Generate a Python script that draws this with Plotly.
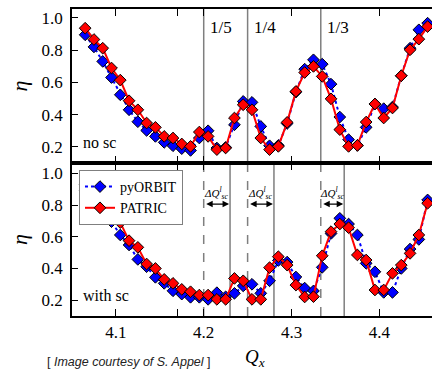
import plotly.graph_objects as go

# ---- data ----
qx = [4.065, 4.075, 4.085, 4.095, 4.105, 4.115, 4.125, 4.135, 4.145, 4.155,
      4.165, 4.175, 4.185, 4.195, 4.205, 4.215, 4.225, 4.235, 4.245, 4.255,
      4.265, 4.275, 4.285, 4.295, 4.305, 4.315, 4.325, 4.335, 4.345, 4.355,
      4.365, 4.375, 4.385, 4.395, 4.405, 4.415, 4.425, 4.435, 4.445, 4.455]

nosc_patric = [0.936, 0.866, 0.812, 0.689, 0.614, 0.486, 0.430, 0.348, 0.321, 0.265,
               0.255, 0.218, 0.203, 0.292, 0.265, 0.183, 0.193, 0.379, 0.461, 0.430,
               0.255, 0.183, 0.203, 0.352, 0.544, 0.661, 0.699, 0.637, 0.498, 0.307,
               0.203, 0.209, 0.354, 0.466, 0.379, 0.441, 0.641, 0.802, 0.868, 0.946]
nosc_pyorbit = [0.895, 0.820, 0.730, 0.630, 0.523, 0.430, 0.356, 0.302, 0.265, 0.228,
                0.207, 0.189, 0.178, 0.255, 0.300, 0.193, 0.197, 0.337, 0.482, 0.476,
                0.327, 0.207, 0.209, 0.345, 0.540, 0.682, 0.740, 0.713, 0.589, 0.385,
                0.245, 0.209, 0.321, 0.466, 0.437, 0.447, 0.641, 0.812, 0.926, 0.967]

sc_patric = [0.930, 0.860, 0.800, 0.731, 0.689, 0.575, 0.533, 0.428, 0.400, 0.331,
             0.306, 0.268, 0.253, 0.232, 0.232, 0.205, 0.205, 0.337, 0.322, 0.205,
             0.205, 0.405, 0.474, 0.421, 0.295, 0.220, 0.222, 0.480, 0.632, 0.680,
             0.657, 0.485, 0.453, 0.264, 0.264, 0.369, 0.421, 0.495, 0.611, 0.811]
sc_pyorbit = [0.890, 0.810, 0.751, 0.695, 0.611, 0.548, 0.457, 0.411, 0.344, 0.306,
              0.259, 0.238, 0.218, 0.218, 0.205, 0.247, 0.221, 0.243, 0.290, 0.300,
              0.243, 0.322, 0.450, 0.440, 0.346, 0.276, 0.258, 0.407, 0.620, 0.716,
              0.680, 0.611, 0.432, 0.379, 0.249, 0.249, 0.400, 0.522, 0.583, 0.832]

resonances = [4.2, 4.25, 4 + 1 / 3]
resonance_labels = ["1/5", "1/4", "1/3"]
shifted = [4.23, 4.28, 4.36]

x_ticks = [4.1, 4.17, 4.2, 4.3, 4.4]
x_ticktext = ["4.1", "", "4.2", "4.3", "4.4"]
y_ticks = [0.2, 0.4, 0.6, 0.8, 1.0]
y_ticktext = ["0.2", "0.4", "0.6", "0.8", "1.0"]

SERIF = "Liberation Serif"
BLUE = "#0000ff"
RED = "#ff0000"
GRAY = "#7f7f7f"

fig = go.Figure()

def add_series(y, color, dash, name, xa, ya, show):
    fig.add_trace(go.Scatter(
        x=qx, y=y, mode="lines+markers", name=name, showlegend=show,
        line=dict(color=color, width=2, dash=dash),
        marker=dict(symbol="diamond", size=9, color=color,
                    line=dict(color="black", width=1)),
        xaxis=xa, yaxis=ya))

add_series(nosc_pyorbit, BLUE, "dot", "pyORBIT", "x", "y", False)
add_series(nosc_patric, RED, "solid", "PATRIC", "x", "y", False)
add_series(sc_pyorbit, BLUE, "dot", "pyORBIT", "x2", "y2", True)
add_series(sc_patric, RED, "solid", "PATRIC", "x2", "y2", True)

shapes = []
annotations = []
for r, lab in zip(resonances, resonance_labels):
    shapes.append(dict(type="line", xref="x", yref="y domain", x0=r, x1=r, y0=0, y1=1,
                       line=dict(color=GRAY, width=1.5), layer="below"))
    shapes.append(dict(type="line", xref="x2", yref="y2 domain", x0=r, x1=r, y0=0, y1=1,
                       line=dict(color=GRAY, width=1.5, dash="dash"), layer="below"))
    annotations.append(dict(xref="x", yref="y domain", x=r, y=0.877, text=lab,
                            showarrow=False, xanchor="left", yanchor="middle", xshift=4,
                            font=dict(family=SERIF, size=17, color="black")))
for r, s in zip(resonances, shifted):
    shapes.append(dict(type="line", xref="x2", yref="y2 domain", x0=s, x1=s, y0=0, y1=1,
                       line=dict(color=GRAY, width=1.5), layer="below"))
    annotations.append(dict(xref="x2", yref="y2", x=s, y=0.806, ax=r, ay=0.806,
                            axref="x2", ayref="y2", text="", showarrow=True,
                            arrowhead=2, startarrowhead=2, arrowside="end+start",
                            arrowsize=1, arrowwidth=1.3, arrowcolor="black",
                            standoff=1, startstandoff=1))
    annotations.append(dict(xref="x2", yref="y2", x=(r + s) / 2, y=0.875,
                            text="<i>ΔQ</i><sup><i>l</i></sup><sub><i>sc</i></sub>",
                            showarrow=False, xanchor="center", yanchor="middle",
                            font=dict(family=SERIF, size=11, color="black")))

annotations += [
    dict(xref="x domain", yref="y domain", x=0.025, y=0.13, text="no sc", showarrow=False,
         xanchor="left", yanchor="middle", font=dict(family=SERIF, size=16, color="black")),
    dict(xref="x2 domain", yref="y2 domain", x=0.025, y=0.131, text="with sc", showarrow=False,
         xanchor="left", yanchor="middle", font=dict(family=SERIF, size=16, color="black")),
    dict(xref="paper", yref="paper", x=0.508, y=-0.137, text="<i>Q<sub>x</sub></i>",
         showarrow=False, xanchor="center", yanchor="middle",
         font=dict(family=SERIF, size=19, color="black")),
    dict(xref="paper", yref="paper", x=-0.075, y=-0.15,
         text="[ <i>Image courtesy of S. Appel</i> ]", showarrow=False,
         xanchor="left", yanchor="middle",
         font=dict(family="Liberation Sans", size=12.5, color="#222222")),
    dict(xref="paper", yref="paper", x=0.48, y=1, yanchor="bottom", yshift=8,
         text="<b>(bunched beam, space charge)</b>", showarrow=False, xanchor="center",
         font=dict(family="Liberation Sans", size=19, color="black")),
]

xcommon = dict(range=[4.05, 4.46], tickvals=x_ticks, ticktext=x_ticktext,
               ticks="inside", ticklen=7, tickwidth=1.2, tickcolor="black",
               showline=True, linecolor="black", linewidth=1.6, mirror="ticks",
               showgrid=False, zeroline=False,
               tickfont=dict(family=SERIF, size=17, color="black"))
ycommon = dict(tickvals=y_ticks, ticktext=y_ticktext, ticks="inside", ticklen=6,
               tickwidth=1.2, tickcolor="black", showline=True, linecolor="black",
               linewidth=1.6, mirror=False, showgrid=False, zeroline=False,
               ticklabelstandoff=4,
               tickfont=dict(family=SERIF, size=17, color="black"),
               title=dict(text="<i>η</i>", standoff=8,
                          font=dict(family=SERIF, size=22, color="black")))

split = 153 / 307
fig.update_layout(
    width=432, height=369,
    margin=dict(l=72, r=0, t=9, b=53),
    paper_bgcolor="white", plot_bgcolor="white",
    xaxis=dict(xcommon, domain=[0, 1], anchor="y", showticklabels=False, matches="x2"),
    yaxis=dict(ycommon, domain=[split, 1], range=[0.10, 1.055], anchor="x"),
    xaxis2=dict(xcommon, domain=[0, 1], anchor="y2"),
    yaxis2=dict(ycommon, domain=[0, split], range=[0.10, 1.065], anchor="x2"),
    shapes=shapes, annotations=annotations,
    legend=dict(x=0.0194, y=0.4756, xanchor="left", yanchor="top",
                bgcolor="white", bordercolor=GRAY, borderwidth=1,
                font=dict(family=SERIF, size=14, color="black"),
                itemwidth=30, tracegroupgap=0),
    showlegend=True,
)

fig.write_html("out.html")
